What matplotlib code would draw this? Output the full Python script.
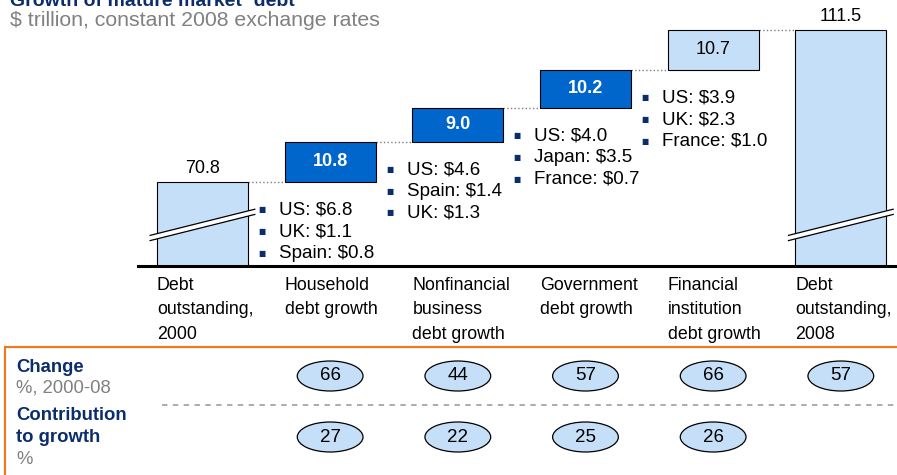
import matplotlib as mpl
mpl.use('Agg')
import matplotlib.pyplot as plt
import matplotlib.transforms as mtransforms
from matplotlib.patches import Ellipse, Rectangle, Polygon
from matplotlib.lines import Line2D

plt.rcParams['font.family'] = ['Liberation Sans', 'DejaVu Sans']

# data
categories = ['Debt\noutstanding,\n2000', 'Household\ndebt growth',
              'Nonfinancial\nbusiness\ndebt growth', 'Government\ndebt growth',
              'Financial\ninstitution\ndebt growth', 'Debt\noutstanding,\n2008']
values = [70.8, 10.8, 9.0, 10.2, 10.7, 111.5]
is_total = [True, False, False, False, False, True]
breakdown = [None,
             ['US: $6.8', 'UK: $1.1', 'Spain: $0.8'],
             ['US: $4.6', 'Spain: $1.4', 'UK: $1.3'],
             ['US: $4.0', 'Japan: $3.5', 'France: $0.7'],
             ['US: $3.9', 'UK: $2.3', 'France: $1.0'],
             None]
change_pct = [None, 66, 44, 57, 66, 57]
contribution_pct = [None, 27, 22, 25, 26, None]

NAVY = '#0B2D6B'
DARK = '#0066CC'
LIGHT = '#C6DFF8'
GREY = '#808080'
ORANGE = '#F07820'

W, H = 897, 475


def fx(px):
    return px / W


def fy(py):
    return 1 - py / H


fig = plt.figure(figsize=(W / 100, H / 100), dpi=100)

# titles (the main title is cut off at the top in the original)
fig.text(fx(10), fy(6), 'Growth of mature market\u00b9 debt', fontsize=14,
         fontweight='bold', color=NAVY, va='baseline', ha='left')
fig.text(fx(10), fy(21), '$ trillion, constant 2008 exchange rates',
         fontsize=15.3, color=GREY, va='center', ha='left')

# waterfall axes
ax = fig.add_axes([fx(138), fy(266), fx(897) - fx(138), fy(0) - fy(266)])
ax.set_xlim(-0.505, 5.44)
ax.set_ylim(48.3, 119.5)
for s in ['top', 'right', 'left']:
    ax.spines[s].set_visible(False)
ax.spines['bottom'].set_linewidth(2.2)
ax.set_xticks([])
ax.set_yticks([])

w = 0.713
x = list(range(len(values)))
bottoms, heights, tops, colors = [], [], [], []
run = 0
for i, v in enumerate(values):
    if is_total[i]:
        b, h = 0, v
        run = v
    else:
        b, h = run, v
        run = run + v
    bottoms.append(b)
    heights.append(h)
    tops.append(b + h)
    colors.append(DARK if (not is_total[i] and i < 4) else LIGHT)

ax.bar(x, heights, bottom=bottoms, width=w, color=colors,
       edgecolor='black', linewidth=0.8, zorder=2)

# connectors
for i in range(len(values) - 1):
    ax.plot([i + w / 2, i + 1 - w / 2], [tops[i], tops[i]], ls=':',
            color='#7F7F7F', lw=1, zorder=1)

# axis break marks on total bars
brk, dy, gap, half = 59.3, 3.5, 1.4, 0.41
for i in [0, 5]:
    xl, xr = i - half, i + half
    poly = Polygon([(xl, brk - dy - gap / 2), (xr, brk + dy - gap / 2),
                    (xr, brk + dy + gap / 2), (xl, brk - dy + gap / 2)],
                   closed=True, facecolor='white', edgecolor='none', zorder=3)
    ax.add_patch(poly)
    for sgn in (-1, 1):
        ax.plot([xl, xr], [brk - dy + sgn * gap / 2, brk + dy + sgn * gap / 2],
                color='black', lw=0.9, zorder=4)

# value labels
for i, v in enumerate(values):
    if is_total[i]:
        ax.annotate(f'{v:.1f}', (i, tops[i]), xytext=(0, 5),
                    textcoords='offset pixels', ha='center', va='bottom',
                    fontsize=13, annotation_clip=False)
    else:
        dark = colors[i] == DARK
        ax.text(i, bottoms[i] + heights[i] / 2, f'{v:.1f}', ha='center',
                va='center', fontsize=13,
                fontweight='bold' if dark else 'normal',
                color='white' if dark else 'black', zorder=5)

# breakdown bullets
for i, items in enumerate(breakdown):
    if not items:
        continue
    anchor = (i - 1 + w / 2, tops[i - 1])
    for j, t in enumerate(items):
        yoff = -28 - 21.7 * j
        ax.annotate('\u25a0', anchor, xytext=(14, yoff), textcoords='offset pixels',
                    ha='center', va='center', fontsize=5.5, color=NAVY,
                    family='DejaVu Sans', annotation_clip=False)
        ax.annotate(t, anchor, xytext=(31, yoff), textcoords='offset pixels',
                    ha='left', va='center', fontsize=13.5, annotation_clip=False)

# category labels
trans = mtransforms.blended_transform_factory(ax.transData, ax.transAxes)
for i, c in enumerate(categories):
    ax.text(i - w / 2, -0.04, c, transform=trans, ha='left', va='top',
            fontsize=12.8, linespacing=1.6, clip_on=False)

# bottom table
bx = fig.add_axes([fx(138), 0, fx(897) - fx(138), fy(266)])
bx.set_xlim(ax.get_xlim())
bx.set_ylim(0, 209)
bx.axis('off')

row_y = [99, 38]
for row, vals in zip(row_y, [change_pct, contribution_pct]):
    for i, v in enumerate(vals):
        if v is None:
            continue
        bx.add_patch(Ellipse((i, row), 0.515, 30, facecolor=LIGHT,
                             edgecolor='black', lw=0.9))
        bx.text(i, row, str(v), ha='center', va='center', fontsize=13.5)

fig.add_artist(Rectangle((fx(5), fy(500)), fx(920) - fx(5), fy(347) - fy(500),
                         transform=fig.transFigure, fill=False,
                         edgecolor=ORANGE, lw=1.6))
fig.add_artist(Line2D([fx(162), fx(897)], [fy(405), fy(405)],
                      transform=fig.transFigure, color='#A6A6A6', lw=1.3,
                      ls=(0, (3, 3))))

fig.text(fx(16), fy(367), 'Change', fontsize=13.3, fontweight='bold', color=NAVY,
         va='center', ha='left')
fig.text(fx(16), fy(388), '%, 2000-08', fontsize=13.3, color=GREY,
         va='center', ha='left')
fig.text(fx(16), fy(416), 'Contribution', fontsize=13.3, fontweight='bold',
         color=NAVY, va='center', ha='left')
fig.text(fx(16), fy(438), 'to growth', fontsize=13.3, fontweight='bold',
         color=NAVY, va='center', ha='left')
fig.text(fx(16), fy(460), '%', fontsize=13.3, color=GREY, va='center', ha='left')

fig.savefig('out.png', dpi=100)
